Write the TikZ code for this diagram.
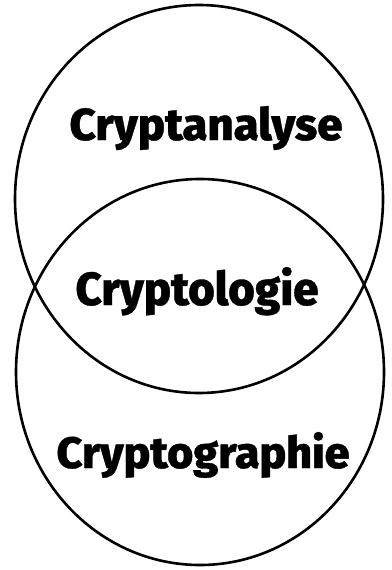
\documentclass[tikz,border=0pt]{standalone}
\usepackage{fontspec}
\IfFontExistsTF{Fira Sans Heavy}{\setmainfont{Fira Sans Heavy}[FakeBold=0.8]}{\IfFontExistsTF{Fira Sans ExtraBold}{\setmainfont{Fira Sans ExtraBold}[FakeBold=0.8]}{\setmainfont{Fira Sans Bold}[FakeBold=1.2]}}
\begin{document}
\begin{tikzpicture}[x=1pt,y=-1pt,
  ring/.style={line width=2.6pt,black},
  lbl/.style={anchor=base,inner sep=0pt,font=\fontsize{47}{50}\selectfont}]
\useasboundingbox (0,0) rectangle (391,570);
\draw[ring] (199,199) ellipse [x radius=184, y radius=194];
\draw[ring] (200,372) ellipse [x radius=184, y radius=193];
\node[lbl] (ana) at (206,140) {\resizebox{273pt}{34pt}{Cryptanalyse}};
\node[lbl] (logie) at (197,305) {\resizebox{243pt}{38pt}{Cryptologie}};
\node[lbl] (graph) at (203,468) {\resizebox{293pt}{36pt}{Cryptographie}};
\end{tikzpicture}
\end{document}
